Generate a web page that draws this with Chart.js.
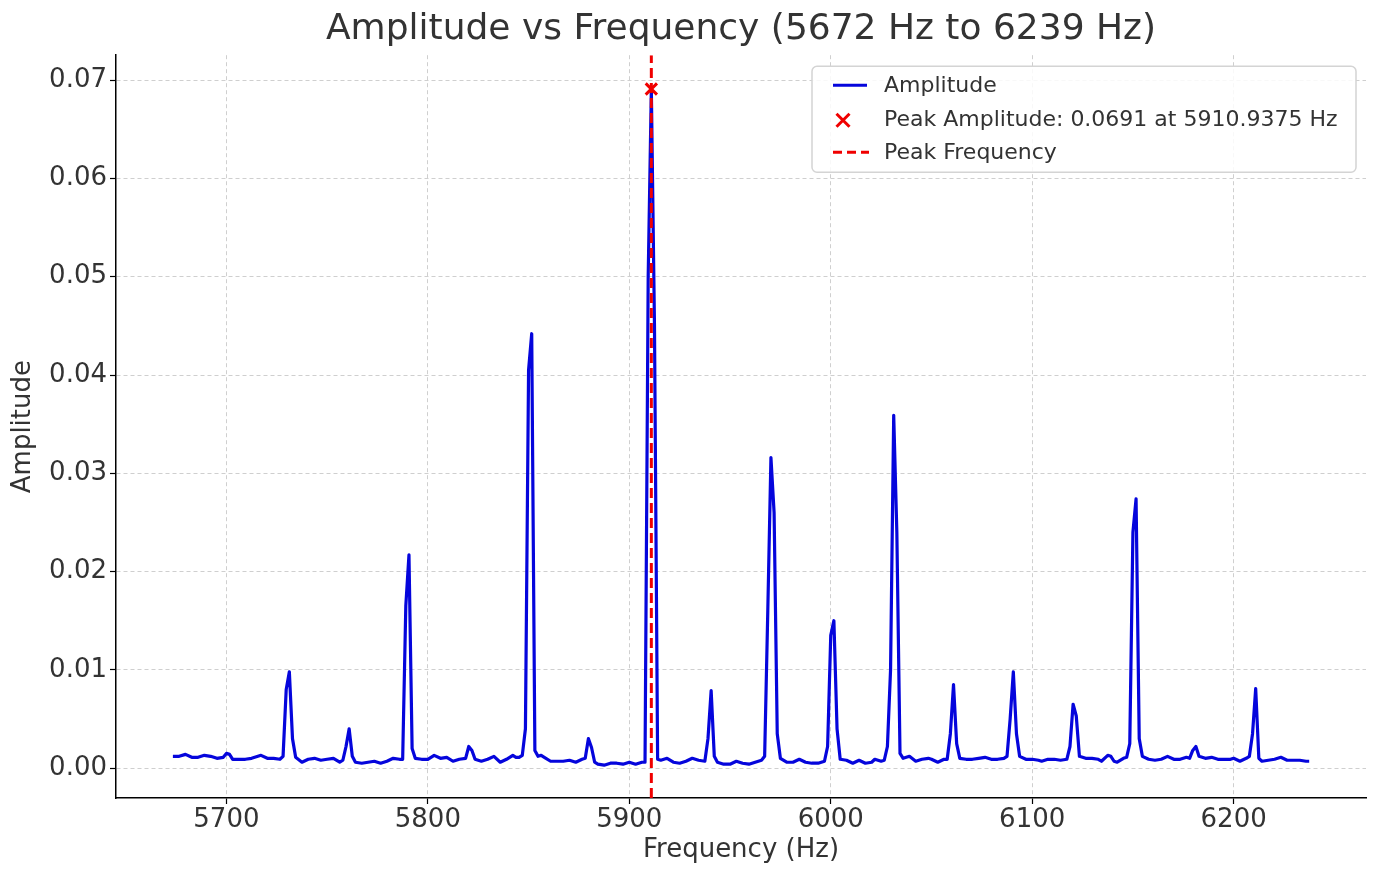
<!DOCTYPE html>
<html><head><meta charset="utf-8">
<script src="https://cdn.jsdelivr.net/npm/chart.js@4.4.0/dist/chart.umd.min.js"></script>
<style>html,body{margin:0;padding:0;background:#fff;}</style>
</head><body>
<canvas id="c" width="1377" height="869"></canvas>
<script>
// ---- data ----
const frequencies = [
5673.44,5676.56,5679.69,5682.81,5685.94,5689.06,5692.19,5695.31,5698.44,5700.00,5701.56,5703.13,5706.25,5709.38,5712.50,5715.63,5717.19,5720.31,5723.44,5726.56,
5728.13,5729.69,5731.25,5732.81,5734.38,5737.50,5740.63,5743.75,5746.88,5750.00,5753.13,5756.25,5757.81,5759.38,5760.94,5762.50,5764.06,5767.19,5770.31,5773.44,
5776.56,5779.69,5782.81,5785.94,5787.50,5789.06,5790.63,5792.19,5793.75,5796.88,5800.00,5803.13,5806.25,5809.38,5812.50,5815.63,5818.75,5820.31,5821.88,5823.44,
5826.56,5829.69,5832.81,5835.94,5839.06,5842.19,5843.75,5845.31,5846.88,5848.44,5850.00,5851.56,5853.13,5854.69,5856.25,5857.81,5860.94,5864.06,5867.19,5870.31,
5873.44,5876.56,5878.13,5879.69,5881.25,5882.81,5884.38,5887.50,5890.63,5893.75,5896.88,5900.00,5903.13,5906.25,5907.81,5909.38,5910.94,5912.50,5914.06,5915.63,
5918.75,5921.88,5925.00,5928.13,5931.25,5934.38,5937.50,5939.06,5940.63,5942.19,5943.75,5946.88,5950.00,5953.13,5956.25,5959.38,5962.50,5965.63,5967.19,5968.75,
5970.31,5971.88,5973.44,5975.00,5978.13,5981.25,5984.38,5987.50,5990.63,5993.75,5996.88,5998.44,6000.00,6001.56,6003.13,6004.69,6007.81,6010.94,6014.06,6017.19,
6020.31,6021.88,6025.00,6026.56,6028.13,6029.69,6031.25,6032.81,6034.38,6035.94,6039.06,6042.19,6045.31,6048.44,6050.00,6053.13,6056.25,6057.81,6059.38,6060.94,
6062.50,6064.06,6067.19,6070.31,6073.44,6076.56,6079.69,6082.81,6085.94,6087.50,6089.06,6090.63,6092.19,6093.75,6096.88,6100.00,6103.13,6104.69,6107.81,6110.94,
6114.06,6117.19,6118.75,6120.31,6121.88,6123.44,6126.56,6129.69,6132.81,6134.38,6137.50,6139.06,6140.63,6142.19,6145.31,6146.88,6148.44,6150.00,6151.56,6153.13,
6154.69,6157.81,6160.94,6164.06,6167.19,6170.31,6173.44,6176.56,6178.13,6179.69,6181.25,6182.81,6185.94,6189.06,6192.19,6195.31,6198.44,6200.00,6203.13,6206.25,
6207.81,6209.38,6210.94,6212.50,6214.06,6217.19,6220.31,6223.44,6226.56,6229.69,6232.81,6235.94,6237.50
];
const amplitudes = [
0.0012,0.0012,0.0014,0.0011,0.0011,0.0013,0.0012,0.0010,0.0011,0.0015,0.0014,0.0009,0.0009,0.0009,0.0010,0.0012,0.0013,0.0010,0.0010,0.0009,
0.0012,0.0080,0.0098,0.0030,0.0011,0.0006,0.0009,0.0010,0.0008,0.0009,0.0010,0.0006,0.0008,0.0022,0.0040,0.0012,0.0006,0.0005,0.0006,0.0007,
0.0005,0.0007,0.0010,0.0009,0.0009,0.0165,0.0217,0.0020,0.0010,0.0009,0.0009,0.0013,0.0010,0.0011,0.0007,0.0009,0.0010,0.0022,0.0018,0.0009,
0.0007,0.0009,0.0012,0.0006,0.0009,0.0013,0.0011,0.0011,0.0013,0.0040,0.0405,0.0442,0.0018,0.0012,0.0013,0.0011,0.0007,0.0007,0.0007,0.0008,
0.0006,0.0009,0.0010,0.0030,0.0021,0.0006,0.0004,0.0003,0.0005,0.0005,0.0004,0.0006,0.0004,0.0006,0.0006,0.0500,0.0691,0.0450,0.0009,0.0008,
0.0010,0.0006,0.0005,0.0007,0.0010,0.0008,0.0007,0.0030,0.0079,0.0012,0.0006,0.0004,0.0004,0.0007,0.0005,0.0004,0.0006,0.0008,0.0012,0.0160,
0.0316,0.0260,0.0035,0.0010,0.0006,0.0006,0.0009,0.0006,0.0005,0.0005,0.0007,0.0022,0.0135,0.0150,0.0040,0.0009,0.0008,0.0005,0.0008,0.0005,
0.0006,0.0009,0.0007,0.0008,0.0022,0.0100,0.0359,0.0240,0.0015,0.0010,0.0012,0.0007,0.0009,0.0010,0.0009,0.0006,0.0009,0.0009,0.0035,0.0085,
0.0025,0.0010,0.0009,0.0009,0.0010,0.0011,0.0009,0.0009,0.0010,0.0012,0.0050,0.0098,0.0035,0.0012,0.0009,0.0009,0.0008,0.0007,0.0009,0.0009,
0.0008,0.0009,0.0022,0.0065,0.0053,0.0012,0.0010,0.0010,0.0009,0.0007,0.0013,0.0012,0.0007,0.0006,0.0010,0.0011,0.0025,0.0240,0.0274,0.0030,
0.0012,0.0009,0.0008,0.0009,0.0012,0.0009,0.0009,0.0011,0.0010,0.0018,0.0022,0.0012,0.0010,0.0011,0.0009,0.0009,0.0009,0.0010,0.0007,0.0010,
0.0012,0.0035,0.0081,0.0010,0.0007,0.0008,0.0009,0.0011,0.0008,0.0008,0.0008,0.0007,0.0007
];
const peakFrequency = 5910.9375;
const peakAmplitude = 0.0691;
const xTickValues = [5700, 5800, 5900, 6000, 6100, 6200];
const yTickValues = [0.00, 0.01, 0.02, 0.03, 0.04, 0.05, 0.06, 0.07];
const xRange = [5645.2, 6265.7];
const yRange = [-0.00304, 0.07254];
const titleText = 'Amplitude vs Frequency (5672 Hz to 6239 Hz)';
const legendLabels = ['Amplitude', 'Peak Amplitude: ' + peakAmplitude + ' at ' + peakFrequency + ' Hz', 'Peak Frequency'];

// ---- styling ----
const FONT = "'DejaVu Sans', 'Liberation Sans', sans-serif";
const TEXT = '#333333';
const BLUE = '#0505dc';
const RED = '#f00000';

const lineData = frequencies.map((f, i) => ({x: f, y: amplitudes[i]}));

const legendPlugin = {
  id: 'boxLegend',
  afterDraw(chart) {
    const ctx = chart.ctx;
    const ca = chart.chartArea;
    const w = 544, h = 106;
    const x = ca.right - 10 - w, y = ca.top + 11;
    ctx.save();
    ctx.beginPath();
    ctx.roundRect(x, y, w, h, 5);
    ctx.fillStyle = 'rgba(255,255,255,0.85)';
    ctx.fill();
    ctx.strokeStyle = '#d4d4d4';
    ctx.lineWidth = 1.5;
    ctx.stroke();
    const rows = [y + 19, y + 53, y + 86];
    const hx1 = x + 21, hx2 = x + 55;
    ctx.strokeStyle = BLUE; ctx.lineWidth = 3; ctx.setLineDash([]);
    ctx.beginPath(); ctx.moveTo(hx1, rows[0]); ctx.lineTo(hx2, rows[0]); ctx.stroke();
    const cx = (hx1 + hx2) / 2 - 7, cy = rows[1] + 1, r = 6.5;
    ctx.strokeStyle = RED; ctx.lineWidth = 3;
    ctx.beginPath(); ctx.moveTo(cx - r, cy - r); ctx.lineTo(cx + r, cy + r);
    ctx.moveTo(cx - r, cy + r); ctx.lineTo(cx + r, cy - r); ctx.stroke();
    ctx.setLineDash([9, 5]);
    ctx.beginPath(); ctx.moveTo(hx1, rows[2]); ctx.lineTo(hx2 + 2, rows[2]); ctx.stroke();
    ctx.setLineDash([]);
    ctx.fillStyle = TEXT;
    ctx.font = '22px ' + FONT;
    ctx.textBaseline = 'middle';
    ctx.textAlign = 'left';
    legendLabels.forEach((t, i) => ctx.fillText(t, x + 72, rows[i] + 1));
    ctx.restore();
  }
};

new Chart(document.getElementById('c'), {
  type: 'line',
  data: {
    datasets: [
      {
        label: legendLabels[1],
        data: [{x: peakFrequency, y: peakAmplitude}],
        showLine: false,
        pointStyle: 'crossRot',
        pointRadius: 8,
        pointBorderWidth: 3,
        pointBorderColor: RED,
        pointBackgroundColor: RED,
        order: 0
      },
      {
        label: legendLabels[2],
        data: [{x: peakFrequency, y: yRange[0]}, {x: peakFrequency, y: yRange[1]}],
        borderColor: RED,
        borderWidth: 3,
        borderDash: [10, 5],
        pointRadius: 0,
        order: 1
      },
      {
        label: legendLabels[0],
        data: lineData,
        borderColor: BLUE,
        borderWidth: 3.2,
        pointRadius: 0,
        tension: 0,
        borderJoinStyle: 'round',
        order: 2
      }
    ]
  },
  options: {
    responsive: false,
    animation: false,
    devicePixelRatio: 1,
    layout: {padding: {left: 0, right: 4, top: 0, bottom: 0}},
    plugins: {
      legend: {display: false},
      tooltip: {enabled: false},
      title: {
        display: true,
        fullSize: false,
        text: titleText,
        color: TEXT,
        font: {family: FONT, size: 36, weight: 'normal', lineHeight: 1.2},
        padding: {top: 8, bottom: 4}
      }
    },
    scales: {
      x: {
        type: 'linear',
        min: xRange[0],
        max: xRange[1],
        afterBuildTicks: s => { s.ticks = xTickValues.map(v => ({value: v})); },
        afterFit: s => { s.height = 71; },
        ticks: {
          color: TEXT,
          font: {family: FONT, size: 26},
          padding: 1,
          maxRotation: 0,
          callback: v => String(v)
        },
        grid: {color: '#cfcfcf', lineWidth: 1, tickLength: 6, tickColor: '#000', tickWidth: 1.2, tickBorderDash: []},
        border: {display: true, color: '#000', width: 1.5, dash: [4, 3]},
        title: {display: true, text: 'Frequency (Hz)', color: TEXT, font: {family: FONT, size: 26}, padding: {top: 0, bottom: 3}}
      },
      y: {
        type: 'linear',
        min: yRange[0],
        max: yRange[1],
        afterBuildTicks: s => { s.ticks = yTickValues.map(v => ({value: v})); },
        afterFit: s => { s.width = 116; },
        ticks: {
          color: TEXT,
          font: {family: FONT, size: 26},
          padding: 3,
          callback: v => Number(v).toFixed(2)
        },
        grid: {color: '#cfcfcf', lineWidth: 1, tickLength: 6, tickColor: '#000', tickWidth: 1.2, tickBorderDash: []},
        border: {display: true, color: '#000', width: 1.5, dash: [4, 3]},
        title: {display: true, text: 'Amplitude', color: TEXT, font: {family: FONT, size: 26}, padding: {top: 8, bottom: 0}}
      }
    }
  },
  plugins: [legendPlugin]
});
</script>
</body></html>
